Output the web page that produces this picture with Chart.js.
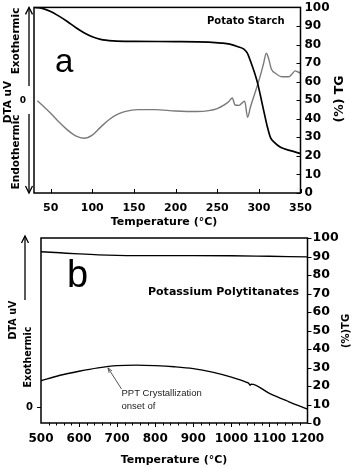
<!DOCTYPE html>
<html>
<head>
<meta charset="utf-8">
<script src="https://cdn.jsdelivr.net/npm/chart.js@4.4.1/dist/chart.umd.min.js"></script>
<style>
  body { margin: 0; background: #fff; width: 352px; height: 468px; overflow: hidden; position: relative; }
  canvas { position: absolute; left: 0; }
  #chartA { top: -6px; }
  #chartB { top: 224px; }
</style>
</head>
<body>
<canvas id="chartA" width="352" height="236"></canvas>
<canvas id="chartB" width="352" height="244"></canvas>
<script>
// (a) potato starch
const starchTgTemp = [30, 40, 50, 60, 70, 80, 90, 100, 110, 125, 150, 200, 240, 255, 265, 275, 282, 286, 290, 298, 306, 310, 314, 318, 326, 338, 350];
const starchTg = [100, 99.5, 97.8, 95.3, 92.4, 89.2, 86.4, 84.2, 82.8, 82, 81.7, 81.6, 81.3, 80.8, 80.2, 78.8, 77.5, 75.5, 71, 60, 44, 36, 29.8, 27.5, 24.6, 22.8, 21.3];
const starchDtaTemp = [34, 40, 50, 60, 70, 80, 90, 100, 110, 120, 130, 140, 155, 175, 200, 225, 240, 250, 258, 264, 268, 271.5, 276, 280, 283, 286.5, 290, 295, 301, 305.5, 309, 312, 315, 320, 328, 336, 340, 343.5, 347, 350];
const starchDta = [-0.3, -2.7, -7, -11.8, -16, -19.2, -20.5, -18.8, -14.5, -10.5, -7.7, -6, -5.1, -5.1, -5.8, -6.1, -5.6, -4.5, -2.7, -0.7, 1.2, -2.6, -2.8, -1.4, -0.6, -9.2, -3.5, 3.5, 12, 19.5, 25.3, 22, 16.8, 14.5, 12.6, 12.6, 14.2, 15.8, 15.2, 14.5];
const starchTempTicks = [50, 100, 150, 200, 250, 300, 350];

// (b) potassium polytitanates
const pptTgTemp = [500, 550, 600, 650, 700, 750, 800, 900, 1000, 1100, 1200];
const pptTg = [92.6, 92, 91.4, 90.9, 90.6, 90.5, 90.5, 90.5, 90.4, 90.1, 89.8];
const pptDtaTemp = [500, 550, 600, 650, 700, 750, 800, 850, 900, 950, 1000, 1040, 1046, 1049, 1052, 1100, 1150, 1200];
const pptDta = [14.3, 17.3, 19.5, 21.3, 22.5, 22.8, 22.5, 21.9, 20.9, 19, 16.3, 13.5, 12.9, 11.9, 12.5, 7.5, 3.1, -1];
const pptTempTicks = [500, 600, 700, 800, 900, 1000, 1100, 1200];

const tgTicks = [0, 10, 20, 30, 40, 50, 60, 70, 80, 90, 100];
const dtaTicks = [0];

Chart.defaults.font.family = "'DejaVu Sans', Verdana, sans-serif";
Chart.defaults.color = '#000';

function pts(xs, ys) {
  return xs.map((x, i) => ({ x: x, y: ys[i] }));
}

function setTicks(list) {
  return (scale) => { scale.ticks = list.map(v => ({ value: v })); };
}

function vtext(ctx, text, x, y, font) {
  ctx.save();
  ctx.translate(x, y);
  ctx.rotate(-Math.PI / 2);
  ctx.font = font;
  ctx.textAlign = 'center';
  ctx.textBaseline = 'middle';
  ctx.fillText(text, 0, 0);
  ctx.restore();
}

function head(ctx, x, y, dir) {
  // dir = -1 points up, 1 points down
  ctx.beginPath();
  ctx.moveTo(x - 3.5, y - dir * 7);
  ctx.lineTo(x, y);
  ctx.lineTo(x + 3.5, y - dir * 7);
  ctx.stroke();
}

function axisStyle(font, pad, list, fit) {
  return {
    grid: { display: false, drawTicks: false },
    border: { display: false },
    afterBuildTicks: setTicks(list),
    afterFit: fit,
    ticks: {
      font: font,
      padding: pad,
      color: '#000',
      autoSkip: false,
      minRotation: 0,
      maxRotation: 0,
      callback: v => String(v)
    }
  };
}

// ---------- chart a ----------
const oa = 6; // page y -> canvas y
new Chart(document.getElementById('chartA'), {
  type: 'line',
  data: {
    datasets: [
      {
        data: pts(starchTgTemp, starchTg),
        yAxisID: 'yR',
        borderColor: '#000',
        borderWidth: 1.7,
        cubicInterpolationMode: 'monotone'
      },
      {
        data: pts(starchDtaTemp, starchDta),
        yAxisID: 'yL',
        borderColor: '#7a7a7a',
        borderWidth: 1.4,
        cubicInterpolationMode: 'monotone'
      }
    ]
  },
  options: {
    responsive: false,
    animation: false,
    devicePixelRatio: 1,
    layout: { padding: { top: 12, left: 0, right: 0, bottom: 0 } },
    elements: { point: { radius: 0 } },
    plugins: { legend: { display: false }, tooltip: { enabled: false } },
    scales: {
      x: Object.assign({ type: 'linear', min: 30, max: 350 },
        axisStyle({ size: 11, weight: 'bold' }, 9, starchTempTicks, s => { s.height = 37; })),
      yL: Object.assign({ position: 'left', min: -50, max: 50 },
        axisStyle({ size: 9, weight: 'bold' }, 8, dtaTicks, s => { s.width = 34; })),
      yR: Object.assign({ position: 'right', min: 0, max: 100 },
        axisStyle({ size: 12, weight: 'bold' }, 4, tgTicks, s => { s.width = 51.5; }))
    }
  },
  plugins: [{
    id: 'decorA',
    afterDraw(chart) {
      const ctx = chart.ctx;
      const a = chart.chartArea;
      const x = chart.scales.x, yR = chart.scales.yR;
      ctx.save();
      ctx.strokeStyle = '#000';
      ctx.fillStyle = '#000';
      ctx.lineWidth = 1.5;
      ctx.strokeRect(a.left, a.top, a.right - a.left, a.bottom - a.top);
      ctx.lineWidth = 1;
      ctx.beginPath();
      starchTempTicks.forEach(v => {
        const px = Math.round(x.getPixelForValue(v)) + 0.5;
        ctx.moveTo(px, a.bottom); ctx.lineTo(px, a.bottom - 4);
      });
      tgTicks.forEach(v => {
        const py = Math.round(yR.getPixelForValue(v)) + 0.5;
        ctx.moveTo(a.right, py); ctx.lineTo(a.right - 4, py);
      });
      ctx.stroke();

      // left double arrow
      ctx.lineWidth = 1.3;
      ctx.beginPath();
      ctx.moveTo(29, a.top); ctx.lineTo(29, 86 + oa);
      ctx.moveTo(29, 114 + oa); ctx.lineTo(29, a.bottom);
      ctx.stroke();
      head(ctx, 29, a.top, -1);
      head(ctx, 29, a.bottom, 1);

      vtext(ctx, 'Exothermic', 16, 41 + oa, 'bold 10.5px "DejaVu Sans"');
      vtext(ctx, 'DTA uV', 8, 102 + oa, 'bold 10.5px "DejaVu Sans"');
      vtext(ctx, 'Endothermic', 16, 152 + oa, 'bold 10.5px "DejaVu Sans"');
      vtext(ctx, '(%) TG', 339.5, 99 + oa, 'bold 12.5px "DejaVu Sans"');

      ctx.textBaseline = 'middle';
      ctx.textAlign = 'center';
      ctx.font = 'bold 11px "DejaVu Sans"';
      ctx.fillText('Temperature (°C)', 164, 222 + oa);
      ctx.textAlign = 'left';
      ctx.font = 'bold 10px "DejaVu Sans"';
      ctx.fillText('Potato Starch', 207, 21 + oa);
      ctx.textBaseline = 'alphabetic';
      ctx.font = '33px "Liberation Sans"';
      ctx.fillText('a', 55, 72 + oa);
      ctx.restore();
    }
  }]
});

// ---------- chart b ----------
const ob = -224;
new Chart(document.getElementById('chartB'), {
  type: 'line',
  data: {
    datasets: [
      {
        data: pts(pptTgTemp, pptTg),
        yAxisID: 'yR',
        borderColor: '#000',
        borderWidth: 1.4,
        cubicInterpolationMode: 'monotone'
      },
      {
        data: pts(pptDtaTemp, pptDta),
        yAxisID: 'yL',
        borderColor: '#000',
        borderWidth: 1.4,
        cubicInterpolationMode: 'monotone'
      }
    ]
  },
  options: {
    responsive: false,
    animation: false,
    devicePixelRatio: 1,
    layout: { padding: { top: 10, left: 0, right: 0, bottom: 0 } },
    elements: { point: { radius: 0 } },
    plugins: { legend: { display: false }, tooltip: { enabled: false } },
    scales: {
      x: Object.assign({ type: 'linear', min: 500, max: 1200 },
        axisStyle({ size: 12, weight: 'bold' }, 9, pptTempTicks, s => { s.height = 45; })),
      yL: Object.assign({ position: 'left', min: -8.5, max: 91.5 },
        axisStyle({ size: 10, weight: 'bold' }, 8, dtaTicks, s => { s.width = 41; })),
      yR: Object.assign({ position: 'right', min: 0, max: 100 },
        axisStyle({ size: 12.5, weight: 'bold' }, 5, tgTicks, s => { s.width = 44.5; }))
    }
  },
  plugins: [{
    id: 'decorB',
    afterDraw(chart) {
      const ctx = chart.ctx;
      const a = chart.chartArea;
      const x = chart.scales.x, yR = chart.scales.yR, yL = chart.scales.yL;
      ctx.save();
      ctx.strokeStyle = '#000';
      ctx.fillStyle = '#000';
      ctx.lineWidth = 1.5;
      ctx.strokeRect(a.left, a.top, a.right - a.left, a.bottom - a.top);
      ctx.lineWidth = 1;
      ctx.beginPath();
      for (let t = 520; t < 1200; t += 20) {
        const px = Math.round(x.getPixelForValue(t)) + 0.5;
        const len = pptTempTicks.includes(t) ? 4 : 2.5;
        ctx.moveTo(px, a.bottom); ctx.lineTo(px, a.bottom + len);
      }
      tgTicks.forEach(v => {
        const py = Math.round(yR.getPixelForValue(v)) + 0.5;
        ctx.moveTo(a.right, py); ctx.lineTo(a.right + 4, py);
      });
      const p0 = Math.round(yL.getPixelForValue(0)) + 0.5;
      ctx.moveTo(a.left, p0); ctx.lineTo(a.left - 4, p0);
      ctx.stroke();

      // upward arrow
      ctx.lineWidth = 1.3;
      ctx.beginPath();
      ctx.moveTo(25, 300 + ob); ctx.lineTo(25, 236 + ob);
      ctx.stroke();
      head(ctx, 25, 236 + ob, -1);

      // annotation pointer to crystallization onset
      const tipX = x.getPixelForValue(676), tipY = yL.getPixelForValue(22.1) + 1.5;
      ctx.strokeStyle = '#444';
      ctx.lineWidth = 0.9;
      ctx.beginPath();
      ctx.moveTo(121.5, 389 + ob); ctx.lineTo(tipX, tipY);
      ctx.stroke();
      const ang = Math.atan2(tipY - (389 + ob), tipX - 121.5);
      ctx.beginPath();
      ctx.moveTo(tipX - 5 * Math.cos(ang - 0.35), tipY - 5 * Math.sin(ang - 0.35));
      ctx.lineTo(tipX, tipY);
      ctx.lineTo(tipX - 5 * Math.cos(ang + 0.35), tipY - 5 * Math.sin(ang + 0.35));
      ctx.stroke();

      vtext(ctx, 'DTA uV', 13, 320 + ob, 'bold 9.6px "DejaVu Sans"');
      vtext(ctx, 'Exothermic', 28, 357 + ob, 'bold 9.6px "DejaVu Sans"');
      vtext(ctx, '(%)TG', 346, 331 + ob, 'bold 10px "DejaVu Sans"');

      ctx.textBaseline = 'middle';
      ctx.textAlign = 'center';
      ctx.font = 'bold 11px "DejaVu Sans"';
      ctx.fillText('Temperature (°C)', 174, 460 + ob);
      ctx.textAlign = 'left';
      ctx.fillText('Potassium Polytitanates', 148, 292 + ob);
      ctx.fillStyle = '#222';
      ctx.font = '9.5px "Liberation Sans"';
      ctx.fillText('PPT Crystallization', 121.5, 393 + ob);
      ctx.fillText('onset of', 121.5, 406 + ob);
      ctx.fillStyle = '#000';
      ctx.textBaseline = 'alphabetic';
      ctx.font = '38px "Liberation Sans"';
      ctx.fillText('b', 67, 287 + ob);
      ctx.restore();
    }
  }]
});
</script>
</body>
</html>
